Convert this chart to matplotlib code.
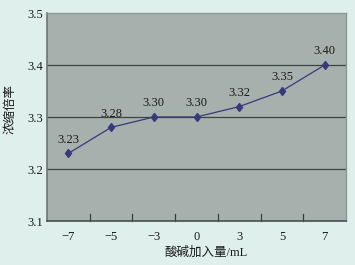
import matplotlib
matplotlib.use("Agg")
import matplotlib.pyplot as plt
from matplotlib.lines import Line2D

categories = ["\u22127", "\u22125", "\u22123", "0", "3", "5", "7"]
values = [3.23, 3.28, 3.30, 3.30, 3.32, 3.35, 3.40]
labels = ["3.23", "3.28", "3.30", "3.30", "3.32", "3.35", "3.40"]
yticks = [3.1, 3.2, 3.3, 3.4, 3.5]

serif = ["Liberation Serif", "DejaVu Serif"]
cjk = ["Noto Sans CJK SC", "DejaVu Sans"]
cjk_serif = ["Liberation Serif", "Noto Sans CJK SC"]

fig = plt.figure(figsize=(3.55, 2.65), dpi=100, facecolor="#dff0ec")
ax = fig.add_axes([47/355, 1-221/265, 299/355, 208/265])
ax.set_facecolor("#a6b1ad")

x = list(range(len(categories)))
ax.plot(x, values, color="#363a78", lw=0.9, marker="d", ms=4.5,
        mfc="#363a78", mec="#363a78", zorder=3)
for xi, v, t in zip(x, values, labels):
    ax.annotate(t, (xi, v), xytext=(0, 5.5), textcoords="offset points",
                ha="center", va="bottom", fontsize=9, family=serif,
                color="#1a1a1a")

ax.set_xlim(-0.5, len(categories) - 0.5)
ax.set_ylim(3.1, 3.5)
ax.set_yticks(yticks)
ax.set_yticklabels([f"{t:.1f}" for t in yticks], family=serif, fontsize=9, color="#1a1a1a")
ax.set_xticks(x)
ax.set_xticklabels(categories, family=serif, fontsize=9, color="#1a1a1a")
ax.tick_params(axis="x", length=0, pad=7)
ax.tick_params(axis="y", length=0, pad=3)
for b in [i + 0.5 for i in x[:-1]]:
    ax.add_line(Line2D([b, b], [0, 0.035], transform=ax.get_xaxis_transform(),
                       color="#3a3a3a", lw=0.9, clip_on=False))

for yv in [3.2, 3.3, 3.4]:
    ax.axhline(yv, color="#3b4440", lw=0.9, zorder=1)

ax.spines["left"].set_color("#6e7572")
ax.spines["left"].set_linewidth(1.2)
ax.spines["bottom"].set_color("#4a4f4d")
ax.spines["bottom"].set_linewidth(1.2)
ax.spines["top"].set_color("#8d9692")
ax.spines["top"].set_linewidth(1.0)
ax.spines["right"].set_color("#8d9692")
ax.spines["right"].set_linewidth(1.0)

fig.text(206/355, 1-253/265, "酸碱加入量/mL", ha="center", va="center",
         fontsize=9, family=cjk_serif, color="#1a1a1a")
fig.text(10/355, 1-109/265, "浓缩倍率", ha="center", va="center",
         rotation=90, fontsize=9, family=cjk, color="#1a1a1a")

fig.savefig("out.png", dpi=100, facecolor=fig.get_facecolor())
